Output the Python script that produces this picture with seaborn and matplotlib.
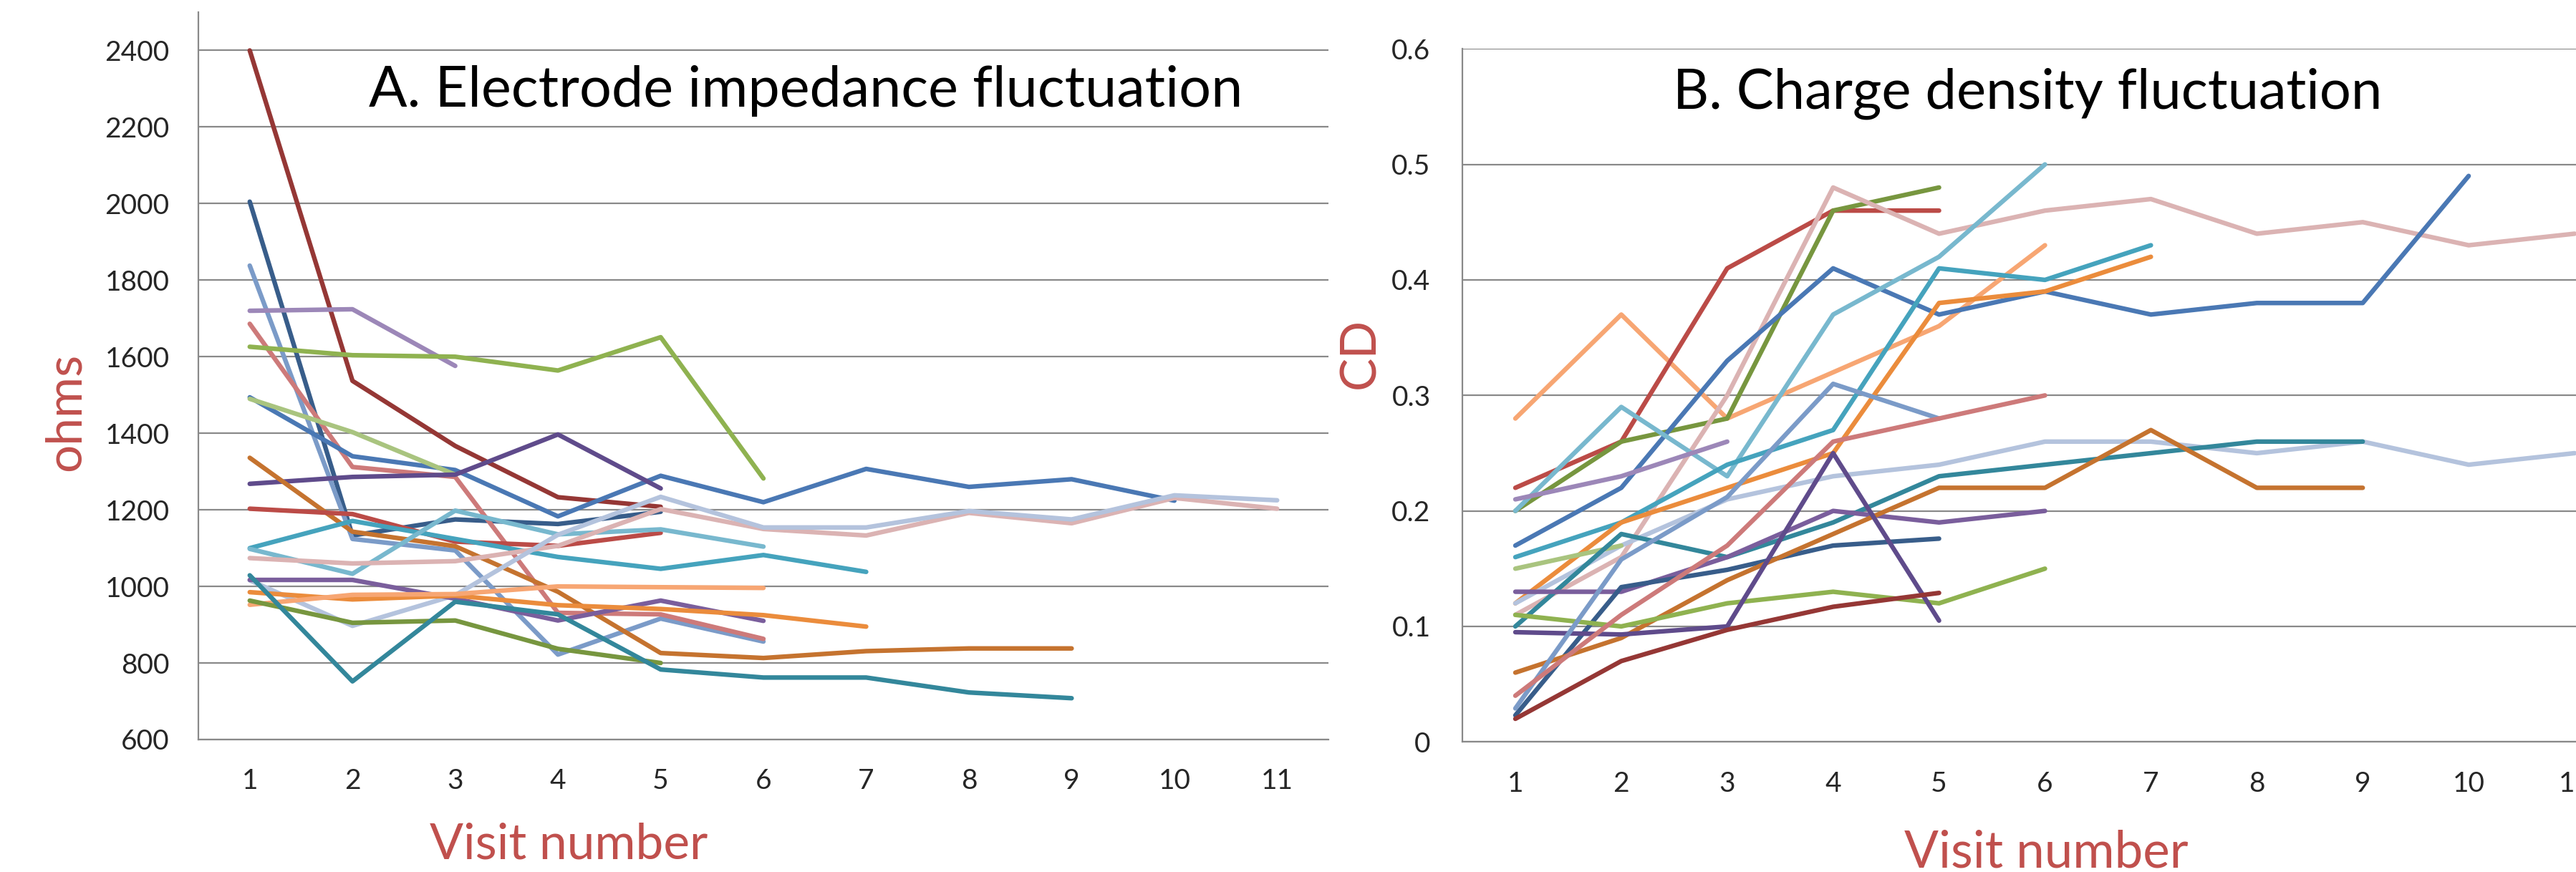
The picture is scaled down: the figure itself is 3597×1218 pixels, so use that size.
import numpy as np
import pandas as pd
import matplotlib
matplotlib.use("Agg")
import matplotlib.pyplot as plt
import seaborn as sns

visits = list(range(1, 12))

# A. electrode impedance (ohms), each list starts at visit 1
imp_01 = [2400, 1537, 1367, 1233, 1208]
imp_02 = [2005, 1133, 1175, 1163, 1195]
imp_03 = [1838, 1124, 1094, 822, 916, 856]
imp_04 = [1720, 1724, 1576]
imp_05 = [1686, 1312, 1286, 931, 927, 863]
imp_06 = [1626, 1604, 1600, 1564, 1651, 1282]
imp_07 = [1494, 1340, 1304, 1183, 1289, 1220, 1307, 1260, 1280, 1224]
imp_08 = [1490, 1403, 1292]
imp_09 = [1268, 1286, 1292, 1397, 1256]
imp_10 = [1336, 1143, 1105, 986, 826, 813, 831, 838, 838]
imp_11 = [1203, 1189, 1117, 1106, 1140]
imp_12 = [1100, 1171, 1124, 1077, 1046, 1082, 1038]
imp_13 = [1098, 1033, 1198, 1136, 1149, 1104]
imp_14 = [1074, 1060, 1066, 1106, 1202, 1150, 1133, 1192, 1165, 1231, 1203]
imp_15 = [1016, 897, 977, 1135, 1234, 1154, 1154, 1197, 1175, 1238, 1225]
imp_16 = [1017, 1017, 968, 911, 963, 910]
imp_17 = [985, 966, 976, 951, 941, 925, 895]
imp_18 = [952, 978, 980, 1000, 998, 996]
imp_19 = [963, 905, 911, 837, 800]
imp_20 = [1029, 752, 960, 927, 783, 762, 762, 723, 708]

# B. charge density, each list starts at visit 1
cd_01 = [0.28, 0.37, 0.28, 0.32, 0.36, 0.43]
cd_02 = [0.22, 0.26, 0.41, 0.46, 0.46]
cd_03 = [0.20, 0.26, 0.28, 0.46, 0.48]
cd_04 = [0.11, 0.16, 0.30, 0.48, 0.44, 0.46, 0.47, 0.44, 0.45, 0.43, 0.44]
cd_05 = [0.17, 0.22, 0.33, 0.41, 0.37, 0.39, 0.37, 0.38, 0.38, 0.49]
cd_06 = [0.20, 0.29, 0.23, 0.37, 0.42, 0.50]
cd_07 = [0.16, 0.19, 0.24, 0.27, 0.41, 0.40, 0.43]
cd_08 = [0.12, 0.19, 0.22, 0.25, 0.38, 0.39, 0.42]
cd_09 = [0.21, 0.23, 0.26]
cd_10 = [0.12, 0.17, 0.21, 0.23, 0.24, 0.26, 0.26, 0.25, 0.26, 0.24, 0.25]
cd_11 = [0.15, 0.17]
cd_12 = [0.10, 0.18, 0.16, 0.19, 0.23, 0.24, 0.25, 0.26, 0.26]
cd_13 = [0.13, 0.13, 0.16, 0.20, 0.19, 0.20]
cd_14 = [0.023, 0.134, 0.149, 0.17, 0.176]
cd_15 = [0.06, 0.09, 0.14, 0.18, 0.22, 0.22, 0.27, 0.22, 0.22]
cd_16 = [0.11, 0.10, 0.12, 0.13, 0.12, 0.15]
cd_17 = [0.095, 0.093, 0.10, 0.25, 0.105]
cd_18 = [0.02, 0.07, 0.097, 0.117, 0.129]
cd_19 = [0.029, 0.158, 0.212, 0.31, 0.28]
cd_20 = [0.04, 0.11, 0.17, 0.26, 0.28, 0.30]

imp_ticks = list(range(600, 2401, 200))
cd_ticks = [0, 0.1, 0.2, 0.3, 0.4, 0.5, 0.6]
cd_tick_labels = ["0", "0.1", "0.2", "0.3", "0.4", "0.5", "0.6"]

imp_series = [imp_01, imp_02, imp_03, imp_04, imp_05, imp_06, imp_07, imp_08, imp_09, imp_10,
              imp_11, imp_12, imp_13, imp_14, imp_15, imp_16, imp_17, imp_18, imp_19, imp_20]
cd_series = [cd_01, cd_02, cd_03, cd_04, cd_05, cd_06, cd_07, cd_08, cd_09, cd_10,
             cd_11, cd_12, cd_13, cd_14, cd_15, cd_16, cd_17, cd_18, cd_19, cd_20]

imp_colors = ["#953735", "#385d8a", "#7b9bc8", "#9c87b8", "#cd7a7a", "#8fb250", "#4a78b4",
              "#a9c47f", "#5f4b8b", "#c5732f", "#bb4b47", "#45a3bd", "#78b8ce", "#dbb3b3",
              "#b4c3dd", "#7a5e9c", "#eb8c3c", "#f7a673", "#77963f", "#33879b"]
cd_colors = ["#f7a673", "#bb4b47", "#77963f", "#dbb3b3", "#4a78b4", "#78b8ce", "#45a3bd",
             "#eb8c3c", "#9c87b8", "#b4c3dd", "#a9c47f", "#33879b", "#7a5e9c", "#385d8a",
             "#c5732f", "#8fb250", "#5f4b8b", "#953735", "#7b9bc8", "#cd7a7a"]

grid_c = "#898989"
label_c = "#c0504d"


def to_long(series_list):
    rows = []
    for i, vals in enumerate(series_list):
        for v, y in zip(visits, vals):
            rows.append((f"s{i:02d}", v, y))
    return pd.DataFrame(rows, columns=["series", "visit", "value"])


sns.set_theme(style="white")
plt.rcParams["font.family"] = ["Lato", "DejaVu Sans"]

fig = plt.figure(figsize=(35.98, 12.18), dpi=100)
axA = fig.add_axes([0.07699, 0.15189, 0.43858, 0.83415])
axB = fig.add_axes([0.56754, 0.14918, 0.45219, 0.79475])

sns.lineplot(data=to_long(imp_series), x="visit", y="value", hue="series",
             palette=imp_colors, estimator=None, sort=False, legend=False,
             lw=4.6, solid_capstyle="round", solid_joinstyle="round", ax=axA)
sns.lineplot(data=to_long(cd_series), x="visit", y="value", hue="series",
             palette=cd_colors, estimator=None, sort=False, legend=False,
             lw=4.6, solid_capstyle="round", solid_joinstyle="round", ax=axB)


def style_axes(ax, ylim, yticks, ylabels, ypad):
    ax.set_xlim(0.5, 11.5)
    ax.set_ylim(*ylim)
    ax.set_yticks(yticks)
    ax.set_yticklabels(ylabels)
    ax.set_xticks(np.arange(0.5, 12, 1))
    ax.set_xticklabels([])
    ax.set_xticks(visits, minor=True)
    ax.set_xticklabels([str(v) for v in visits], minor=True)
    ax.tick_params(axis="x", which="major", length=14, width=1.6, color=grid_c, direction="out")
    ax.tick_params(axis="x", which="minor", length=0, pad=29, labelsize=28)
    ax.tick_params(axis="y", length=12, width=1.6, color=grid_c, direction="out", pad=ypad, labelsize=28)
    ax.grid(axis="y", color=grid_c, lw=1.6)
    ax.grid(axis="x", visible=False)
    ax.spines["top"].set_visible(False)
    ax.spines["right"].set_visible(False)
    for s in ["left", "bottom"]:
        ax.spines[s].set_color(grid_c)
        ax.spines[s].set_linewidth(1.6)
    ax.set_xlabel("")
    ax.set_ylabel("")
    ax.set_axisbelow(True)


style_axes(axA, (600, 2500), imp_ticks, [str(t) for t in imp_ticks], 17)
style_axes(axB, (0, 0.6), cd_ticks, cd_tick_labels, 20)

# titles inside the plot area
fig.text(515 / 3598, 1 - 127 / 1218, "A. Electrode impedance fluctuation",
         fontsize=57, va="center", ha="left", color="black")
fig.text(2336 / 3598, 1 - 131 / 1218, "B. Charge density fluctuation",
         fontsize=56, va="center", ha="left", color="black")

# axis titles
fig.text(92 / 3598, 1 - 575 / 1218, "ohms", rotation=90, fontsize=50,
         color=label_c, ha="center", va="center")
fig.text(794 / 3598, 1 - 1180 / 1218, "Visit number", fontsize=50,
         color=label_c, ha="center", va="center")
fig.text(1900 / 3598, 1 - 493 / 1218, "CD", rotation=90, fontsize=50,
         color=label_c, ha="center", va="center")
fig.text(2857 / 3598, 1 - 1212 / 1218, "Visit number", fontsize=51,
         color=label_c, ha="center", va="baseline")

fig.savefig("out.png", dpi=100)
